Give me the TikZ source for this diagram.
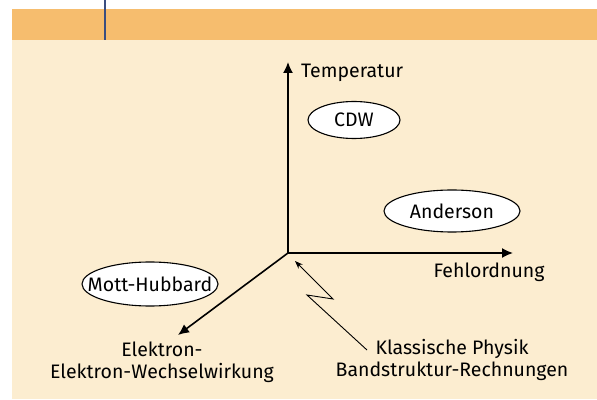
\documentclass[tikz,border=0pt]{standalone}
\usepackage{fontspec}
\setmainfont{Fira Sans}
\usepackage{tikz}
\usetikzlibrary{positioning,arrows.meta,shapes.geometric}

\definecolor{bandorange}{HTML}{F6BD6E}
\definecolor{boxcream}{HTML}{FCEDD0}
\definecolor{rulerblue}{HTML}{3A4E80}

\newcommand{\phasetext}[1]{\makebox[0pt]{#1}}

\begin{document}
\begin{tikzpicture}[
  x=1pt, y=1pt,
  phase/.style={draw, ellipse, line width=1.1pt, fill=white, inner sep=0pt, font=\fontsize{19.5}{22}\selectfont},
  axis/.style={-{Latex[length=11pt, width=10pt]}, line width=1.6pt},
  lbl/.style={align=center, inner sep=0pt, font=\fontsize{19.5}{22}\selectfont},
]
% frame
\useasboundingbox (0,0) rectangle (597,399);
\fill[white] (0,0) rectangle (597,399);
\fill[boxcream] (12,0) rectangle (597,359);
\fill[bandorange] (12,359) rectangle (597,390);
\draw[rulerblue, line width=2pt] (105,399) -- (105,359);

% axes
\coordinate (O) at (288,146);
\coordinate (T) at (288,337);
\coordinate (F) at (513,146);
\coordinate (E) at (178,64);
\draw[axis] (O) -- (T);
\draw[axis] (O) -- (F);
\draw[axis] (O) -- (E);

\node[lbl, anchor=west] (temp) at (301,326) {Temperatur};
\node[lbl] (fehl) at (489,127) {Fehlordnung};
\node[lbl] (ee) at (162,37) {Elektron-\\Elektron-Wechselwirkung};
\node[lbl] (klass) at (452,39) {Klassische Physik\\Bandstruktur-Rechnungen};

% phases
\node[phase, minimum width=92pt, minimum height=37pt] (cdw) at (354,279) {\phasetext{CDW}};
\node[phase, minimum width=136pt, minimum height=42pt] (anderson) at (452,188) {\phasetext{Anderson}};
\node[phase, minimum width=136pt, minimum height=44pt] (mott) at (150,115) {\phasetext{Mott-Hubbard}};

% zigzag
\coordinate (zs) at (367,49);
\coordinate (zt) at (295,138);
\draw[-{Stealth[length=8pt, width=6pt]}, line width=0.9pt]
  (zs) -- (307,104) -- (333,100) -- (zt);
\end{tikzpicture}
\end{document}
